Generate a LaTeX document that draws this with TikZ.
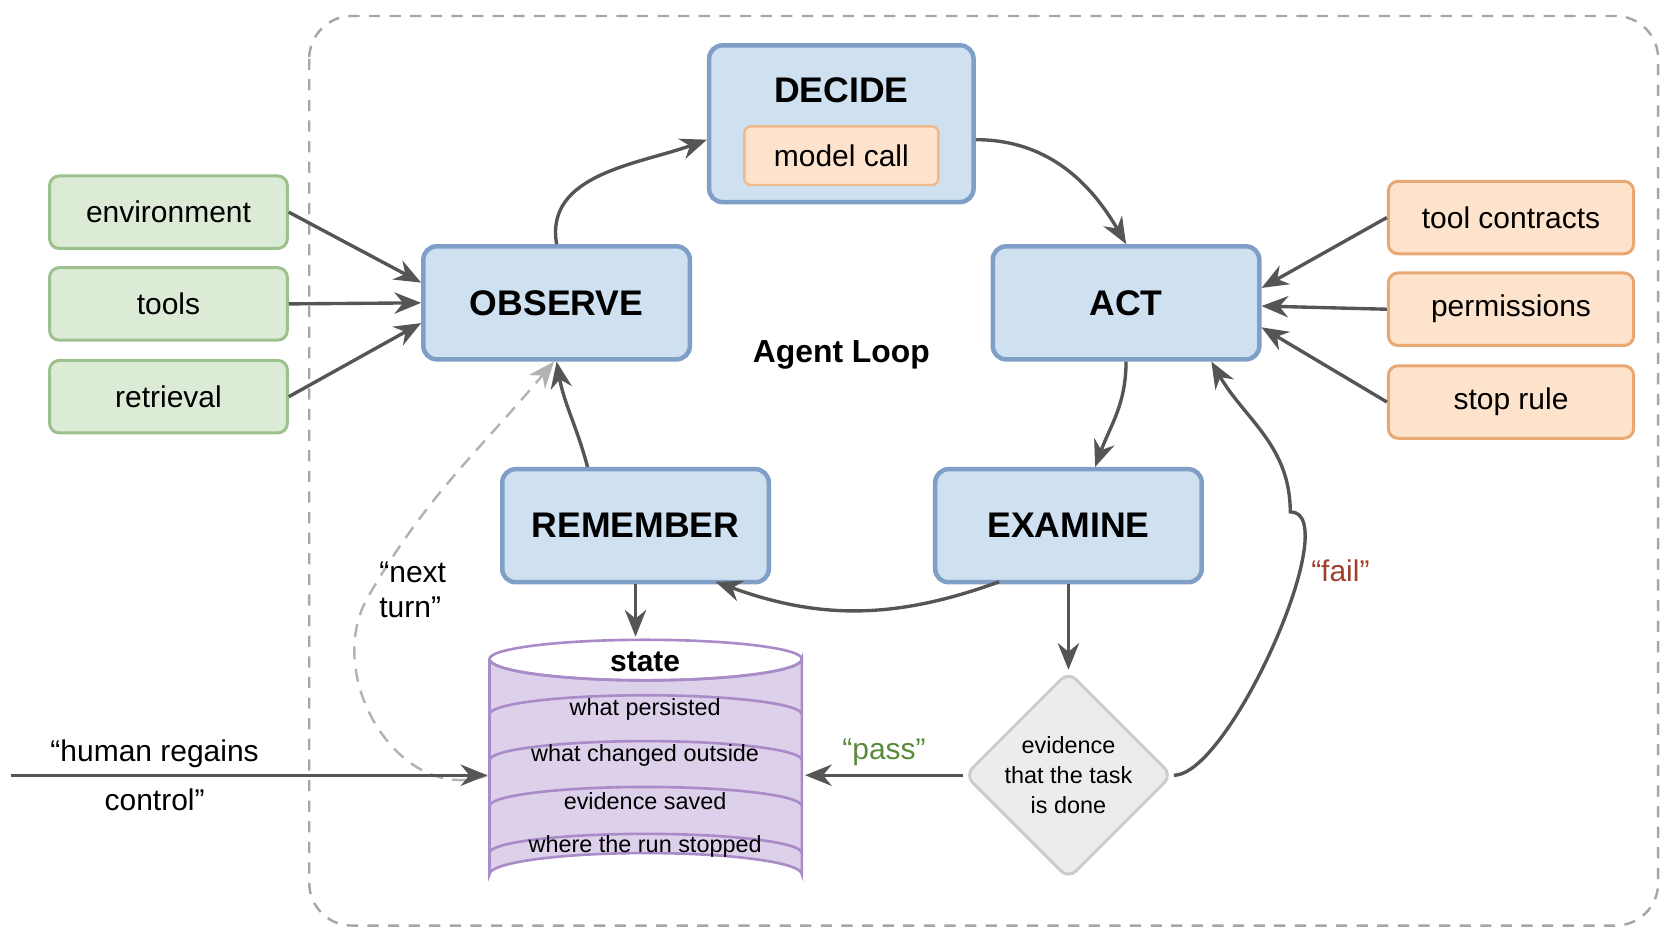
\documentclass[tikz,border=0pt]{standalone}
\usepackage{fontspec}
\setmainfont{Liberation Sans}
\usetikzlibrary{arrows.meta,shapes.geometric}
\definecolor{bfill}{HTML}{CFE0F1}\definecolor{bdraw}{HTML}{7F9FC6}
\definecolor{gfill}{HTML}{DCEBD5}\definecolor{gdraw}{HTML}{9CC08E}
\definecolor{ofill}{HTML}{FDE3CC}\definecolor{odraw}{HTML}{E8A873}
\definecolor{pfill}{HTML}{DDD0EA}\definecolor{pdraw}{HTML}{A98BC8}
\definecolor{arr}{HTML}{555555}
\definecolor{passc}{HTML}{5A8A3C}\definecolor{failc}{HTML}{A0402A}
\begin{document}
\begin{tikzpicture}[x=0.02cm,y=-0.02cm,
 stagebox/.style={draw=bdraw,fill=bfill,line width=2.4pt,rounded corners=0.25cm,minimum width=5cm,minimum height=2.12cm,font=\fontsize{19}{22}\selectfont\bfseries},
 inbox/.style={draw=gdraw,fill=gfill,line width=1.6pt,rounded corners=0.18cm,minimum width=4.46cm,minimum height=1.36cm,font=\fontsize{16}{19}\selectfont},
 outbox/.style={draw=odraw,fill=ofill,line width=1.6pt,rounded corners=0.18cm,minimum width=4.6cm,minimum height=1.36cm,font=\fontsize{16}{19}\selectfont},
 flow/.style={draw=arr,line width=1.8pt,-{Stealth[length=0.5cm,width=0.4cm]}},
 lbl/.style={font=\fontsize{16}{19}\selectfont,align=center},
 row/.style={font=\fontsize{12.5}{15}\selectfont}]
\useasboundingbox (0,0) rectangle (1568,882);
\draw[gray!70,dashed,line width=1.3pt,dash pattern=on 6pt off 5pt,rounded corners=0.8cm] (290,15) rectangle (1555,868);
% stages
\node[stagebox,minimum width=4.96cm,minimum height=2.94cm] (dec) at (789,116) {};
\node[font=\fontsize{19}{22}\selectfont\bfseries] (dect) at (789,85) {DECIDE};
\node[draw=odraw!80,fill=ofill,line width=1.3pt,rounded corners=0.12cm,minimum width=3.64cm,minimum height=1.1cm,font=\fontsize{16}{19}\selectfont] (mc) at (789,146) {model call};
\node[stagebox] (obs) at (522,284) {OBSERVE};
\node[stagebox] (act) at (1056,284) {ACT};
\node[stagebox] (rem) at (596,493) {REMEMBER};
\node[stagebox] (exa) at (1002,493) {EXAMINE};
\node[font=\fontsize{17}{20}\selectfont\bfseries] (al) at (789,333) {Agent Loop};
% inputs
\node[inbox] (env) at (158,199) {environment};
\node[inbox] (tls) at (158,285) {tools};
\node[inbox] (ret) at (158,372) {retrieval};
\node[outbox] (tc) at (1417,204) {tool contracts};
\node[outbox] (pm) at (1417,290) {permissions};
\node[outbox] (sr) at (1417,377) {stop rule};
% state cylinder
\draw[draw=pdraw,fill=pfill,line width=1.4pt] (459,618) -- (459,820) arc[start angle=180,end angle=360,x radius=146.5,y radius=20] -- (752,618) arc[start angle=0,end angle=180,x radius=146.5,y radius=20];
\foreach \c in {618,670,713,756,800}
  \draw[draw=pdraw,line width=1.4pt] (459,\c) arc[start angle=180,end angle=360,x radius=146.5,y radius=18];
\draw[draw=pdraw,line width=1.4pt] (459,618) arc[start angle=180,end angle=0,x radius=146.5,y radius=20];
\node[font=\fontsize{16}{19}\selectfont\bfseries] (st) at (605,621) {state};
\node[row] (r1) at (605,665) {what persisted};
\node[row] (r2) at (605,708) {what changed outside};
\node[row] (r3) at (605,751) {evidence saved};
\node[row] (r4) at (605,794) {where the run stopped};
\coordinate (stN) at (596,597);
\coordinate (stW) at (457,727);
\coordinate (stE) at (755,727);
% diamond
\node[diamond,draw=gray!40,fill=gray!15,line width=1.6pt,rounded corners=0.2cm,minimum width=3.9cm,minimum height=3.9cm,inner sep=0pt] (dia) at (1002,727) {};
\node[row,align=center,font=\fontsize{12.5}{16}\selectfont] (diat) at (1002,727) {evidence\\that the task\\is done};
% loop arrows
\draw[flow] (obs.north) to[out=100,in=200] ([yshift=-0.3cm]dec.west);
\draw[flow] ([yshift=-0.3cm]dec.east) to[out=0,in=120] (act.north);
\draw[flow] (act.south) to[out=-90,in=70] ([xshift=0.5cm]exa.north);
\draw[flow] ([xshift=-1.3cm,yshift=0.05cm]exa.south) to[out=200,in=-20] ([xshift=1.5cm,yshift=0.05cm]rem.south);
\draw[flow] ([xshift=-0.9cm]rem.north) to[out=105,in=-80] ([xshift=0cm]obs.south);
\draw[flow] (rem.south) -- (stN);
\draw[flow] (exa.south) -- (dia.north);
\draw[flow] (dia.west) -- (stE) node[midway,above=1pt,font=\fontsize{16}{19}\selectfont,text=passc] {“pass”};
\draw[flow] (dia.east) to[out=0,in=0,looseness=0.5] (1210,480) to[out=90,in=-60] ([xshift=1.6cm]act.south);
\node[lbl,text=failc] (fail) at (1257,535) {“fail”};
\draw[draw=gray!60,line width=1.3pt,dashed,dash pattern=on 7pt off 5pt,-{Stealth[length=0.5cm,width=0.4cm,fill=gray!60]}] (stW) to[out=200,in=240,looseness=1.1] (345,560) to[out=60,in=-130] ([xshift=-0.05cm]obs.south);
\node[lbl,align=left] (nt) at (387,553) {“next\\turn”};
\coordinate (hstart) at (10,727);
\draw[flow] (hstart) -- (stW);
\node[lbl] (hrc) at (145,727) {“human regains\\[0.25cm]control”};
% inputs arrows
\draw[flow] (env.east) -- ([yshift=0.38cm]obs.west);
\draw[flow] (tls.east) -- (obs.west);
\draw[flow] (ret.east) -- ([yshift=-0.38cm]obs.west);
\draw[flow] (tc.west) -- ([yshift=0.28cm]act.east);
\draw[flow] (pm.west) -- ([yshift=-0.06cm]act.east);
\draw[flow] (sr.west) -- ([yshift=-0.46cm]act.east);
\end{tikzpicture}
\end{document}
